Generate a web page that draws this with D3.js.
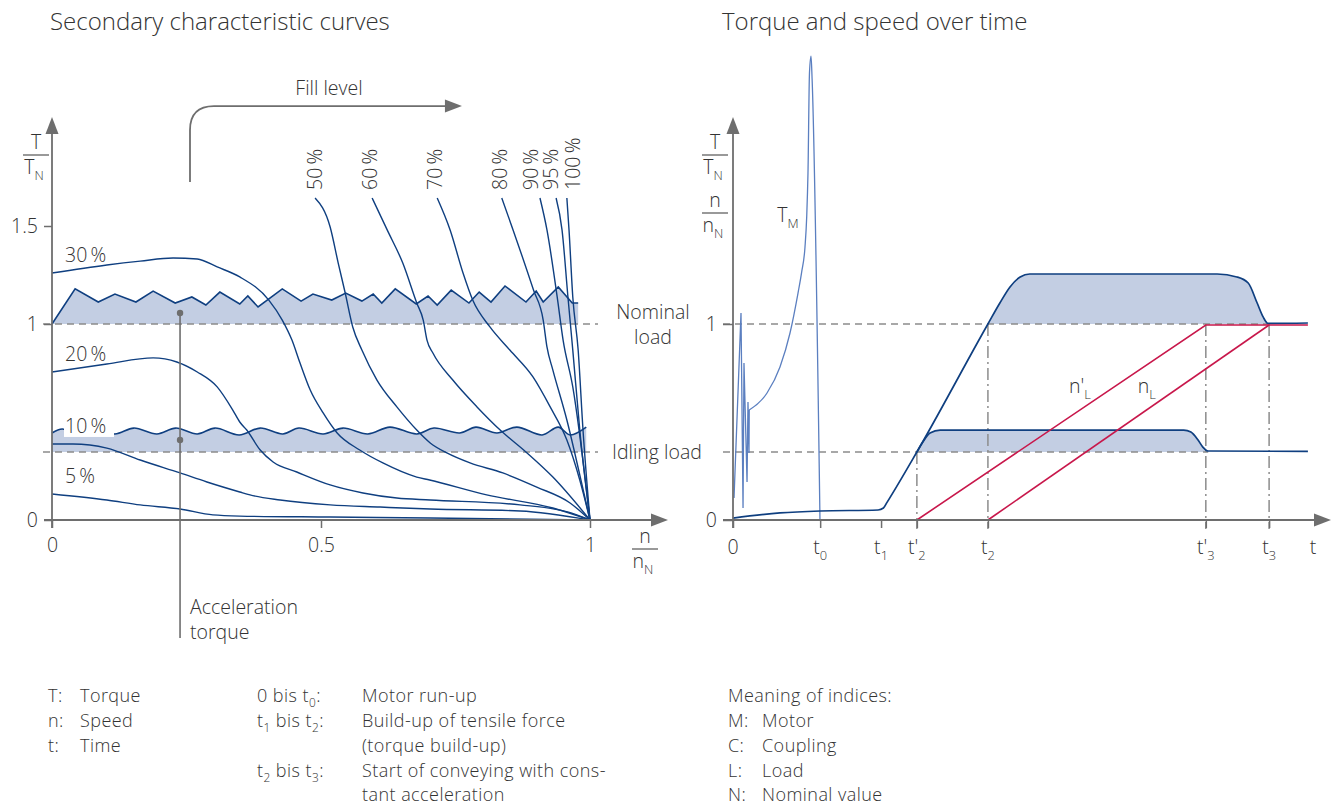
<!DOCTYPE html>
<html><head><meta charset="utf-8">
<script src="https://cdn.jsdelivr.net/npm/d3@7"></script>
<style>
body{margin:0;background:#fff;}
svg text{font-family:"Open Sans","Liberation Sans",sans-serif;font-weight:300;fill:#333;}
</style></head><body>
<script>
// ---------------- DATA ----------------
// Left chart: secondary characteristic curves (n/nN , T/TN)
const leftYTicks = [0, 1, 1.5];
const leftXTicks = [0, 0.5, 1];
const nominalLoad = 1;
const idlingLoad = 0.347;

const curve5  = [[0,0.133],[0.102,0.102],[0.164,0.077],[0.238,0.056],[0.299,0.026],[0.349,0.02],[0.517,0.015],[0.703,0.01],[1,0]];
const curve10 = [[0,0.388],[0.039,0.388],[0.102,0.367],[0.164,0.306],[0.238,0.24],[0.288,0.194],[0.349,0.143],[0.368,0.128],[0.424,0.102],[0.517,0.077],[0.61,0.066],[0.703,0.056],[0.87,0.046],[1,0]];
const curve20 = [[0,0.755],[0.102,0.796],[0.188,0.827],[0.232,0.806],[0.27,0.755],[0.307,0.679],[0.336,0.561],[0.349,0.5],[0.362,0.459],[0.387,0.357],[0.411,0.296],[0.455,0.245],[0.517,0.179],[0.578,0.138],[0.641,0.112],[0.703,0.102],[0.87,0.077],[0.96,0.04],[1,0]];
const curve30 = [[0,1.26],[0.102,1.301],[0.164,1.321],[0.225,1.337],[0.27,1.332],[0.307,1.291],[0.349,1.24],[0.403,1.122],[0.428,1.02],[0.446,0.918],[0.461,0.801],[0.48,0.663],[0.504,0.546],[0.53,0.444],[0.572,0.357],[0.615,0.291],[0.678,0.219],[0.702,0.204],[0.808,0.128],[0.931,0.061],[1,0]];
const curve50 = [[0.489,1.643],[0.517,1.495],[0.532,1.311],[0.545,1.158],[0.559,0.985],[0.576,0.867],[0.604,0.714],[0.641,0.577],[0.678,0.459],[0.703,0.393],[0.734,0.342],[0.777,0.291],[0.838,0.24],[0.901,0.168],[0.963,0.087],[1,0]];
const curve60 = [[0.595,1.643],[0.623,1.48],[0.652,1.311],[0.678,1.107],[0.69,1.02],[0.697,0.918],[0.708,0.852],[0.745,0.714],[0.79,0.577],[0.833,0.459],[0.883,0.342],[0.931,0.219],[1,0]];
const curve70 = [[0.716,1.643],[0.74,1.48],[0.764,1.26],[0.782,1.122],[0.814,0.985],[0.851,0.867],[0.894,0.73],[0.926,0.577],[0.957,0.408],[0.981,0.204],[1,0]];
const curve80 = [[0.836,1.643],[0.857,1.48],[0.895,1.173],[0.913,1.02],[0.92,0.883],[0.931,0.765],[0.957,0.51],[0.981,0.23],[1,0]];
const curve90 = [[0.907,1.643],[0.92,1.48],[0.939,1.138],[0.95,0.918],[0.968,0.679],[1,0]];
const curve95 = [[0.937,1.643],[0.948,1.48],[0.959,1.138],[0.968,0.867],[0.981,0.459],[1,0]];
const curve100= [[0.957,1.643],[0.961,1.48],[0.968,1.138],[0.978,0.867],[0.987,0.459],[1,0]];
const lowLabels  = ["5 %","10 %","20 %","30 %"];
const highLabels = ["50 %","60 %","70 %","80 %","90 %","95 %","100 %"];

// torque band above nominal load (zig-zag) and above idling load (wavy)
const nominalBand = [[0,1],[0.043,1.179],[0.086,1.112],[0.117,1.153],[0.156,1.112],[0.188,1.168],[0.229,1.107],[0.26,1.138],[0.286,1.097],[0.312,1.163],[0.349,1.102],[0.364,1.143],[0.383,1.087],[0.428,1.179],[0.463,1.117],[0.485,1.153],[0.52,1.122],[0.546,1.158],[0.576,1.117],[0.597,1.153],[0.613,1.107],[0.638,1.179],[0.677,1.102],[0.699,1.143],[0.716,1.097],[0.742,1.173],[0.775,1.107],[0.794,1.163],[0.816,1.112],[0.842,1.194],[0.881,1.112],[0.9,1.168],[0.913,1.112],[0.941,1.189],[0.967,1.107],[0.978,1.107]];
const idleBand = [[0,0.444],[0.019,0.464],[0.043,0.444],[0.076,0.469],[0.117,0.439],[0.152,0.469],[0.195,0.439],[0.23,0.469],[0.27,0.439],[0.303,0.469],[0.348,0.434],[0.387,0.469],[0.429,0.439],[0.459,0.469],[0.504,0.439],[0.541,0.469],[0.587,0.439],[0.628,0.474],[0.678,0.439],[0.71,0.469],[0.758,0.444],[0.788,0.474],[0.827,0.444],[0.864,0.474],[0.911,0.434],[0.941,0.474],[0.963,0.434],[0.993,0.474]];
const accelN = 0.238;
const accelDots = [1.056, 0.408];
const accelBottom = -0.602;

// Right chart: torque and speed over time (time in arbitrary units 0..100)
const timeTicks = [0, 14.6, 24.8, 30.8, 42.7, 79.2, 89.8];
const timeTickLabels = [[["0",""]],[["t",""],["0","sub"]],[["t",""],["1","sub"]],[["t'",""],["2","sub"]],[["t",""],["2","sub"]],[["t'",""],["3","sub"]],[["t",""],["3","sub"]]];
const rightYTicks = [0, 1];
const motorOsc = [[0.17,0.112],[1.34,1.056],[1.68,0.061],[1.84,0.801],[2.35,0.194],[2.51,0.602],[2.68,0.342],[2.72,0.561]];
const motorRun = [[2.72,0.561],[5.7,0.648],[7.87,0.781],[9.55,0.954],[10.89,1.158],[11.5,1.265],[12.06,1.393],[12.35,1.55],[12.56,1.77],[12.81,2.281],[13.07,2.367],[13.25,2.25],[14.57,0]];
const torqueNominal = [[0,0.01],[7.87,0.036],[14.6,0.046],[24.3,0.051],[25.2,0.061],[25.8,0.09],[30.8,0.347],[42.7,1],[44.7,1.107],[46.4,1.189],[48.1,1.24],[49.7,1.255],[81.1,1.255],[84.4,1.24],[86.3,1.209],[87.8,1.107],[88.8,1.036],[89.6,1.003],[96.3,1.005]];
const torqueIdle = [[30.8,0.347],[31.8,0.398],[33,0.444],[34.7,0.459],[75.5,0.459],[76.7,0.449],[77.9,0.408],[78.7,0.372],[79.6,0.352],[96.3,0.35]];
const speedLoadPrime = [[30.8,0],[79.2,0.995],[96.3,0.995]];
const speedLoad = [[42.7,0],[89.8,0.995]];

// ---------------- LAYOUT / STYLE ----------------
const W = 1338, H = 806;
const C = {blue:"#0f3f80", fill:"#c3cee3", motor:"#5b7fc0", red:"#c8174b", axis:"#6e6e6e", dash:"#8c8c8c", text:"#333"};
const FS = 19.5;
const LFS = 18;

const svg = d3.select("body").append("svg").attr("width", W).attr("height", H);
svg.append("rect").attr("width", W).attr("height", H).attr("fill", "#fff");

const xL = d3.scaleLinear().domain([0, 1]).range([52, 590]);
const yS = d3.scaleLinear().domain([0, 1]).range([520, 324]);
const xR = d3.scaleLinear().domain([0, 100]).range([733, 1330]);

function rich(g, x, y, parts, anchor, size) {
  size = size || FS;
  const t = g.append("text").attr("x", x).attr("y", y).attr("font-size", size)
    .attr("text-anchor", anchor || "start");
  let shift = 0;
  parts.forEach(([s, kind]) => {
    const target = kind === "sub" ? 0.3 : (kind === "sup" ? -0.4 : 0);
    const ts = t.append("tspan").text(s);
    if (kind) ts.attr("font-size", size * 0.66);
    const dy = (target - shift) * size;
    if (dy) ts.attr("dy", dy);
    shift = target;
  });
  return t;
}
function plain(g, x, y, s, anchor, size) {
  return g.append("text").attr("x", x).attr("y", y).attr("font-size", size || FS)
    .attr("text-anchor", anchor || "start").text(s);
}
function arrowHead(g, x, y, dir) {
  const L = 17, w = 6.5;
  let p;
  if (dir === "up") p = [[x, y], [x - w, y + L], [x + w, y + L]];
  else p = [[x, y], [x - L, y - w], [x - L, y + w]];
  g.append("path").attr("d", "M" + p.join("L") + "Z").attr("fill", C.axis);
}

// Titles
plain(svg, 50, 30, "Secondary characteristic curves", "start", 24);
plain(svg, 722, 30, "Torque and speed over time", "start", 24);

// ================= LEFT CHART =================
const gL = svg.append("g");
const lineL = d3.line().x(d => xL(d[0])).y(d => yS(d[1]));

// fills
gL.append("path").attr("fill", C.fill)
  .attr("d", d3.area().x(d => xL(d[0])).y0(yS(nominalLoad)).y1(d => yS(d[1]))(nominalBand.concat([[nominalBand[nominalBand.length-1][0], nominalLoad]])));
const waveArea = d3.area().x(d => xL(d[0])).y0(yS(idlingLoad)).y1(d => yS(d[1])).curve(d3.curveCatmullRom);
gL.append("path").attr("fill", C.fill).attr("d", waveArea(idleBand));

// dashed reference lines
[nominalLoad, idlingLoad].forEach(v => {
  gL.append("line").attr("x1", 43).attr("x2", 598).attr("y1", yS(v)).attr("y2", yS(v))
    .attr("stroke", C.dash).attr("stroke-width", 1.6).attr("stroke-dasharray", "7,5");
});

// curves
const smooth = d3.line().x(d => xL(d[0])).y(d => yS(d[1])).curve(d3.curveMonotoneX);
const allCurves = [curve5, curve10, curve20, curve30, curve50, curve60, curve70, curve80, curve90, curve95, curve100];
allCurves.forEach(c => {
  gL.append("path").attr("d", smooth(c)).attr("fill", "none").attr("stroke", C.blue).attr("stroke-width", 1.4);
});
gL.append("path").attr("d", lineL(nominalBand)).attr("fill", "none").attr("stroke", C.blue).attr("stroke-width", 1.6).attr("stroke-linejoin", "miter");
gL.append("path").attr("d", d3.line().x(d => xL(d[0])).y(d => yS(d[1])).curve(d3.curveCatmullRom)(idleBand))
  .attr("fill", "none").attr("stroke", C.blue).attr("stroke-width", 1.6);

// low fill-level labels
const lowCurves = [curve5, curve10, curve20, curve30];
lowCurves.forEach((c, i) => {
  const y = yS(c[0][1]) - 11;
  if (i === 1) gL.append("rect").attr("x", 64).attr("y", y - 16).attr("width", 50).attr("height", 20).attr("fill", "#fff");
  plain(gL, 65, y, lowLabels[i].replace(" ", "\u2009"));
});
// high fill-level labels (rotated)
const highCurves = [curve50, curve60, curve70, curve80, curve90, curve95, curve100];
const highDx = [0, -2, -2, -2, -9, -5, 6];
highCurves.forEach((c, i) => {
  const x = xL(c[0][0]) + highDx[i] + 7;
  gL.append("text").attr("transform", `translate(${x},${yS(c[0][1]) - 8}) rotate(-90)`)
    .attr("font-size", FS).text(highLabels[i].replace(" ", "\u2009"));
});

// acceleration torque marker
gL.append("line").attr("x1", xL(accelN)).attr("x2", xL(accelN)).attr("y1", yS(accelDots[0])).attr("y2", yS(accelBottom))
  .attr("stroke", "#6e6e6e").attr("stroke-width", 1.6);
accelDots.forEach(v => gL.append("circle").attr("cx", xL(accelN)).attr("cy", yS(v)).attr("r", 3.2).attr("fill", "#6e6e6e"));
plain(gL, xL(accelN) + 10, 614, "Acceleration");
plain(gL, xL(accelN) + 10, 639, "torque");

// fill level arrow
{
  const x0 = xL(0.2565), yb = yS(1.724), yt = yS(2.112), xt = xL(0.762), r = 24;
  gL.append("path").attr("d", `M${x0},${yb}V${yt + r}Q${x0},${yt} ${x0 + r},${yt}H${xt - 14}`)
    .attr("fill", "none").attr("stroke", "#6e6e6e").attr("stroke-width", 1.8);
  arrowHead(gL, xt, yt, "right");
  plain(gL, 329, yt - 11, "Fill level", "middle");
}

// right-side labels
plain(gL, 653, 319, "Nominal", "middle");
plain(gL, 653, 344, "load", "middle");
plain(gL, 612, 459, "Idling load");

// axes
const axL = gL.append("g");
axL.append("line").attr("x1", 52).attr("x2", 52).attr("y1", 528).attr("y2", 130).attr("stroke", C.axis).attr("stroke-width", 1.8);
axL.append("line").attr("x1", 44).attr("x2", 655).attr("y1", 520).attr("y2", 520).attr("stroke", C.axis).attr("stroke-width", 1.8);
arrowHead(axL, 52, 117, "up");
arrowHead(axL, 668, 520, "right");
gL.append("g").attr("transform", "translate(52,0)")
  .call(d3.axisLeft(yS).tickValues(leftYTicks).tickSize(8).tickPadding(6).tickFormat(d => d === 1.5 ? "1.5" : d))
  .call(g => { g.select(".domain").remove(); g.selectAll("line").attr("stroke", C.axis).attr("stroke-width", 1.5);
               g.selectAll("text").attr("font-size", FS).attr("font-family", null).attr("fill", C.text); });
gL.append("g").attr("transform", "translate(0,520)")
  .call(d3.axisBottom(xL).tickValues(leftXTicks).tickSize(8).tickPadding(10).tickFormat(d => d))
  .call(g => { g.select(".domain").remove(); g.selectAll("line").attr("stroke", C.axis).attr("stroke-width", 1.5);
               g.selectAll("text").attr("font-size", FS).attr("font-family", null).attr("fill", C.text); });
// axis fraction labels
function fraction(g, cx, yTop, top, bottom) {
  rich(g, cx, yTop, top, "middle");
  g.append("line").attr("x1", cx - 13).attr("x2", cx + 13).attr("y1", yTop + 6).attr("y2", yTop + 6).attr("stroke", "#555").attr("stroke-width", 1.2);
  rich(g, cx - 2, yTop + 25, bottom, "middle");
}
fraction(gL, 36, 149, [["T",""]], [["T",""],["N","sub"]]);
fraction(gL, 645, 543, [["n",""]], [["n",""],["N","sub"]]);

// ================= RIGHT CHART =================
const gR = svg.append("g");
const areaNom = d3.area().x(d => xR(d[0])).y0(yS(nominalLoad)).y1(d => yS(d[1])).curve(d3.curveMonotoneX);
const areaIdle = d3.area().x(d => xR(d[0])).y0(yS(idlingLoad)).y1(d => yS(d[1])).curve(d3.curveMonotoneX);
gR.append("path").attr("fill", C.fill).attr("d", areaNom(torqueNominal.filter(d => d[0] >= 42.7 && d[0] <= 89.6)));
gR.append("path").attr("fill", C.fill).attr("d", areaIdle(torqueIdle.filter(d => d[0] <= 79.6)));

// dashed horizontals
gR.append("line").attr("x1", 723).attr("x2", xR(89.6)).attr("y1", yS(nominalLoad)).attr("y2", yS(nominalLoad))
  .attr("stroke", C.dash).attr("stroke-width", 1.6).attr("stroke-dasharray", "7,5");
gR.append("line").attr("x1", 723).attr("x2", xR(79.6)).attr("y1", yS(idlingLoad)).attr("y2", yS(idlingLoad))
  .attr("stroke", C.dash).attr("stroke-width", 1.6).attr("stroke-dasharray", "7,5");
// dash-dot verticals
[[timeTicks[3], idlingLoad], [timeTicks[4], nominalLoad], [timeTicks[5], nominalLoad], [timeTicks[6], nominalLoad]].forEach(([t, v]) => {
  gR.append("line").attr("x1", xR(t)).attr("x2", xR(t)).attr("y1", yS(v)).attr("y2", 529)
    .attr("stroke", C.dash).attr("stroke-width", 1.5).attr("stroke-dasharray", "12,4,2,4");
});

const lineR = d3.line().x(d => xR(d[0])).y(d => yS(d[1]));
const smoothR = d3.line().x(d => xR(d[0])).y(d => yS(d[1])).curve(d3.curveMonotoneX);
gR.append("path").attr("d", lineR(motorOsc)).attr("fill", "none").attr("stroke", C.motor).attr("stroke-width", 1.3);
gR.append("path").attr("d", smoothR(motorRun)).attr("fill", "none").attr("stroke", C.motor).attr("stroke-width", 1.3);
gR.append("path").attr("d", smoothR(torqueNominal)).attr("fill", "none").attr("stroke", C.blue).attr("stroke-width", 1.7);
gR.append("path").attr("d", smoothR(torqueIdle)).attr("fill", "none").attr("stroke", C.blue).attr("stroke-width", 1.7);
[speedLoadPrime, speedLoad].forEach(s => {
  gR.append("path").attr("d", lineR(s)).attr("fill", "none").attr("stroke", C.red).attr("stroke-width", 1.6);
});

// curve labels
rich(gR, xR(9.2), yS(1.55) + 6, [["T",""],["M","sub"]], "middle");
rich(gR, xR(58.1), yS(0.68) + 6, [["n",""],["'",""],["L","sub"]], "middle");
rich(gR, xR(69.3), yS(0.68) + 6, [["n",""],["L","sub"]], "middle");

// axes
const axR = gR.append("g");
axR.append("line").attr("x1", 733).attr("x2", 733).attr("y1", 528).attr("y2", 130).attr("stroke", C.axis).attr("stroke-width", 1.8);
axR.append("line").attr("x1", 723).attr("x2", 1317).attr("y1", 520).attr("y2", 520).attr("stroke", C.axis).attr("stroke-width", 1.8);
arrowHead(axR, 733, 117, "up");
arrowHead(axR, 1331, 520, "right");
gR.append("g").attr("transform", "translate(733,0)")
  .call(d3.axisLeft(yS).tickValues(rightYTicks).tickSize(10).tickPadding(6).tickFormat(d => d))
  .call(g => { g.select(".domain").remove(); g.selectAll("line").attr("stroke", C.axis).attr("stroke-width", 1.5);
               g.selectAll("text").attr("font-size", FS).attr("font-family", null).attr("fill", C.text); });
gR.append("g").attr("transform", "translate(0,520)")
  .call(d3.axisBottom(xR).tickValues(timeTicks).tickSize(8).tickFormat(""))
  .call(g => { g.select(".domain").remove(); g.selectAll("line").attr("stroke", C.axis).attr("stroke-width", 1.5); });
timeTicks.forEach((t, i) => rich(gR, xR(t), 554, timeTickLabels[i], "middle"));
plain(gR, 1313, 554, "t", "middle");
fraction(gR, 715, 149, [["T",""]], [["T",""],["N","sub"]]);
fraction(gR, 715, 207, [["n",""]], [["n",""],["N","sub"]]);

// ================= LEGEND =================
const gLeg = svg.append("g").attr("letter-spacing", 0.45);
const rows = [702, 727, 752, 777, 801];
const legSymbols = ["T:", "n:", "t:"];
const legMeanings = ["Torque", "Speed", "Time"];
legSymbols.forEach((s, i) => { plain(gLeg, 48, rows[i], s, "start", LFS); plain(gLeg, 80, rows[i], legMeanings[i], "start", LFS); });
const phaseLabels = [[["0 bis t",""],["0","sub"],[":",""]], [["t",""],["1","sub"],[" bis t",""],["2","sub"],[":",""]], null, [["t",""],["2","sub"],[" bis t",""],["3","sub"],[":",""]], null];
const phaseTexts = ["Motor run-up", "Build-up of tensile force", "(torque build-up)", "Start of conveying with cons-", "tant acceleration"];
phaseTexts.forEach((s, i) => { if (phaseLabels[i]) rich(gLeg, 257, rows[i], phaseLabels[i], "start", LFS); plain(gLeg, 362, rows[i], s, "start", LFS); });
plain(gLeg, 728, rows[0], "Meaning of indices:", "start", LFS);
const idxKeys = ["M:", "C:", "L:", "N:"];
const idxTexts = ["Motor", "Coupling", "Load", "Nominal value"];
idxKeys.forEach((k, i) => { plain(gLeg, 728, rows[i + 1], k, "start", LFS); plain(gLeg, 762, rows[i + 1], idxTexts[i], "start", LFS); });
</script></body></html>
